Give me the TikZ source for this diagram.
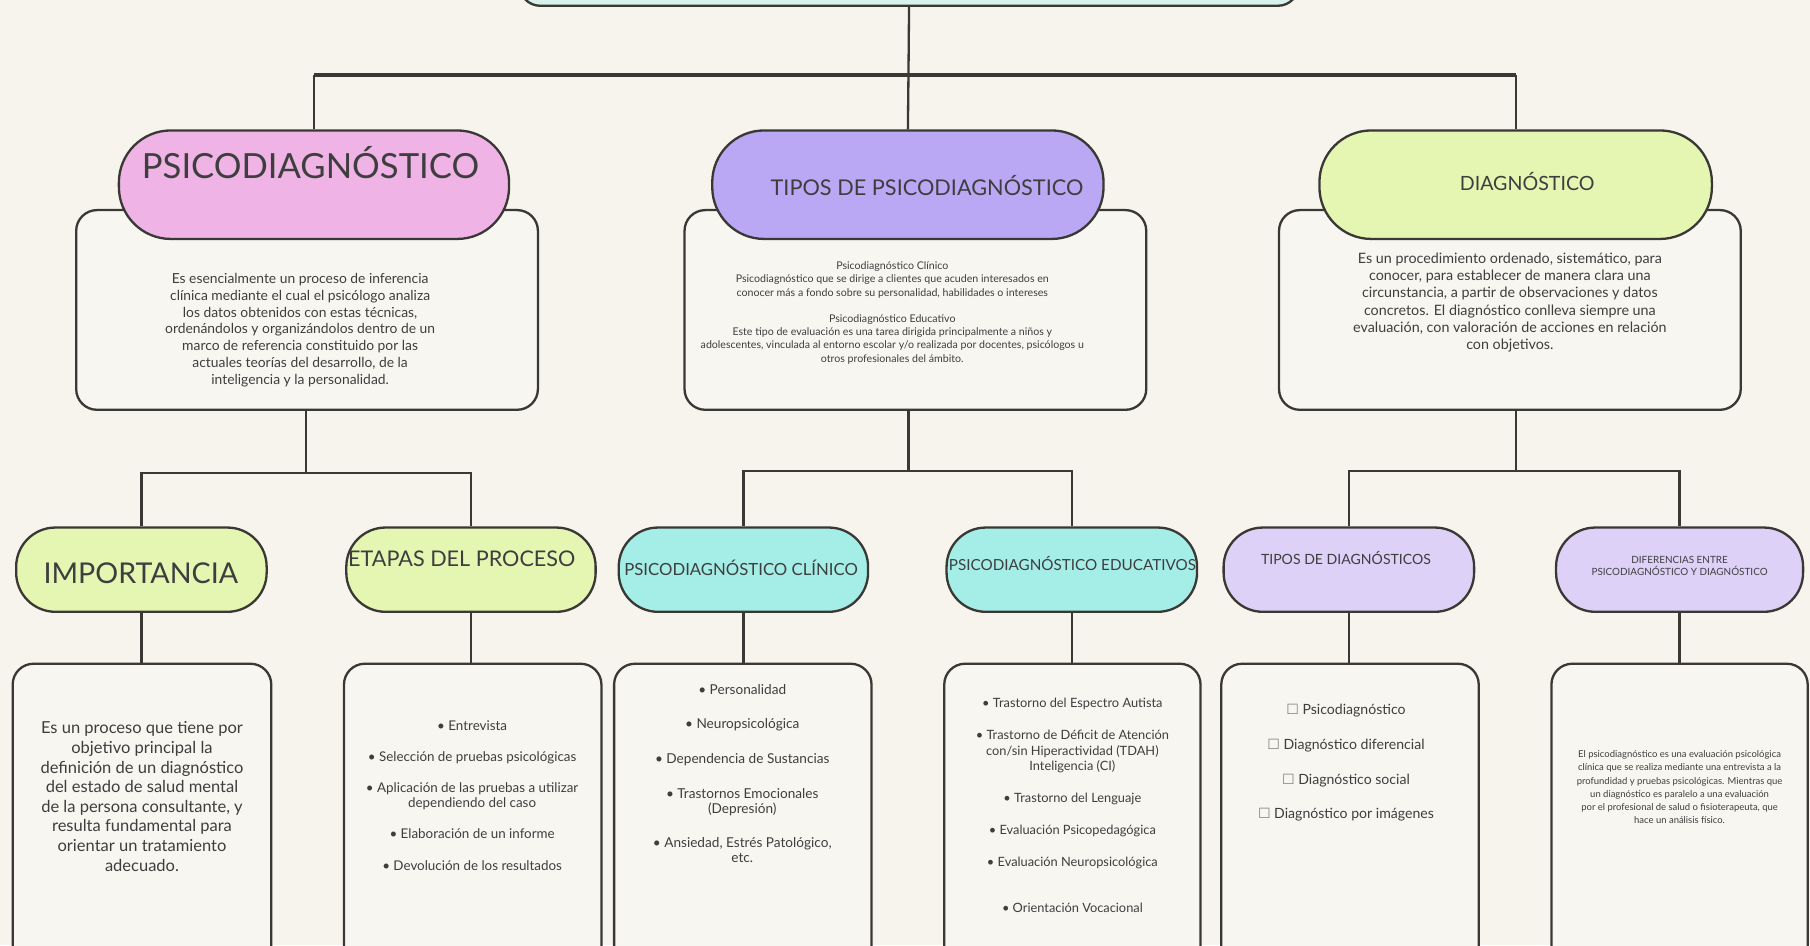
\documentclass[tikz,border=0pt]{standalone}
\usepackage{fontspec}
\setmainfont{Lato}
\newfontfamily\simbolos{DejaVu Sans}
\usetikzlibrary{positioning}
\definecolor{fondo}{HTML}{F7F4ED}
\definecolor{papel}{HTML}{F8F6F1}
\definecolor{linea}{HTML}{3A3834}
\definecolor{texto}{HTML}{3E3E3E}
\definecolor{menta}{HTML}{D7F2EA}
\definecolor{rosa}{HTML}{EFB3E6}
\definecolor{lila}{HTML}{BBA8F4}
\definecolor{lilaClaro}{HTML}{DDD1F8}
\definecolor{lima}{HTML}{E5F5B2}
\definecolor{turquesa}{HTML}{A5EEE8}
\newcommand\tam[2]{\fontsize{#1}{#2}\selectfont}
\newcommand\casilla{{\simbolos\color{gray}☐}}

\begin{document}
\begin{tikzpicture}[x=1pt, y=-1pt,
    every node/.style={text=texto, align=center, inner sep=0pt},
    caja/.style={draw=linea, line width=2, fill=papel, rounded corners=18},
    pildora/.style={draw=linea, line width=2, rounded corners=#1},
    enlace/.style={draw=linea, line width=2}]
  \clip (0,0) rectangle (1568,819);
  \fill[fondo] (0,0) rectangle (1568,819);

  \node[caja, fill=menta, minimum width=675, minimum height=70] (titulo) at (787.5,-30) {};

  \node[caja, minimum width=400, minimum height=173] (cajaPsico) at (266,268.5) {};
  \node[caja, minimum width=400, minimum height=173] (cajaTipos) at (793,268.5) {};
  \node[caja, minimum width=400, minimum height=173] (cajaDiag) at (1308,268.5) {};

  \node[pildora=45, fill=rosa, minimum width=338, minimum height=94] (psico) at (272,160) {};
  \node[pildora=45, fill=lila, minimum width=339, minimum height=94] (tipos) at (786.5,160) {};
  \node[pildora=45, fill=lima, minimum width=340, minimum height=94] (diag) at (1313,160) {};

  \node[font=\tam{30}{32}] (psicoTit) at (269,141) {PSICODIAGNÓSTICO};
  \node[font=\tam{18.8}{21}] (tiposTit) at (803,161) {TIPOS DE PSICODIAGNÓSTICO};
  \node[font=\tam{17}{19}] (diagTit) at (1323,157) {DIAGNÓSTICO};

  \node[font=\tam{12}{14.7}] (psicoTxt) at (260,286) {Es esencialmente un proceso de inferencia\\
    clínica mediante el cual el psicólogo analiza\\
    los datos obtenidos con estas técnicas,\\
    ordenándolos y organizándolos dentro de un\\
    marco de referencia constituido por las\\
    actuales teorías del desarrollo, de la\\
    inteligencia y la personalidad.};
  \node[font=\tam{9.2}{11.5}] (tiposTxt) at (773,271) {Psicodiagnóstico Clínico\\
    Psicodiagnóstico que se dirige a clientes que acuden interesados en\\
    conocer más a fondo sobre su personalidad, habilidades o intereses\\[11]
    Psicodiagnóstico Educativo\\
    Este tipo de evaluación es una tarea dirigida principalmente a niños y\\
    adolescentes, vinculada al entorno escolar y/o realizada por docentes, psicólogos u\\
    otros profesionales del ámbito.};
  \node[font=\tam{12.4}{15}] (diagTxt) at (1308,262) {Es un procedimiento ordenado, sistemático, para\\
    conocer, para establecer de manera clara una\\
    circunstancia, a partir de observaciones y datos\\
    concretos. El diagnóstico conlleva siempre una\\
    evaluación, con valoración de acciones en relación\\
    con objetivos.};

  \node[caja, minimum width=224, minimum height=305] (cajaImp) at (123,727.5) {};
  \node[caja, minimum width=223, minimum height=305] (cajaEtapas) at (409.5,727.5) {};
  \node[caja, minimum width=223, minimum height=305] (cajaClin) at (643.5,727.5) {};
  \node[caja, minimum width=222, minimum height=305] (cajaEdu) at (929,727.5) {};
  \node[caja, minimum width=223, minimum height=305] (cajaTdiag) at (1169.5,727.5) {};
  \node[caja, minimum width=222, minimum height=305] (cajaDif) at (1455,727.5) {};

  \node[pildora=34, fill=lima, minimum width=217, minimum height=73] (imp) at (122.5,493.5) {};
  \node[pildora=34, fill=lima, minimum width=216, minimum height=73] (etapas) at (408,493.5) {};
  \node[pildora=34, fill=turquesa, minimum width=216, minimum height=73] (clin) at (644,493.5) {};
  \node[pildora=34, fill=turquesa, minimum width=217, minimum height=73] (edu) at (928.5,493.5) {};
  \node[pildora=34, fill=lilaClaro, minimum width=217, minimum height=73] (tdiag) at (1168.5,493.5) {};
  \node[pildora=34, fill=lilaClaro, minimum width=214, minimum height=73] (dif) at (1455,493.5) {};

  \node[font=\tam{24.8}{26}] (impTit) at (122,497) {IMPORTANCIA};
  \node[font=\tam{18.7}{20}] (etapasTit) at (400,484) {ETAPAS DEL PROCESO};
  \node[font=\tam{14.5}{16}] (clinTit) at (642,492) {PSICODIAGNÓSTICO CLÍNICO};
  \node[font=\tam{13.2}{15}] (eduTit) at (929,488) {PSICODIAGNÓSTICO EDUCATIVOS};
  \node[font=\tam{12.2}{14}] (tdiagTit) at (1166,483) {TIPOS DE DIAGNÓSTICOS};
  \node[font=\tam{8.6}{10.5}] (difTit) at (1455,490) {DIFERENCIAS ENTRE\\PSICODIAGNÓSTICO Y DIAGNÓSTICO};

  \node[font=\tam{14.3}{17}] (impTxt) at (123,690) {Es un proceso que tiene por\\
    objetivo principal la\\
    definición de un diagnóstico\\
    del estado de salud mental\\
    de la persona consultante, y\\
    resulta fundamental para\\
    orientar un tratamiento\\
    adecuado.};
  \node[font=\tam{11.6}{13}] (etapasTxt) at (409,689) {• Entrevista\\[14]
    • Selección de pruebas psicológicas\\[14]
    • Aplicación de las pruebas a utilizar\\
    dependiendo del caso\\[14]
    • Elaboración de un informe\\[14]
    • Devolución de los resultados};
  \node[font=\tam{11.8}{13}] (clinTxt) at (643,670) {• Personalidad\\[17]
    • Neuropsicológica\\[17]
    • Dependencia de Sustancias\\[17]
    • Trastornos Emocionales\\
    (Depresión)\\[17]
    • Ansiedad, Estrés Patológico,\\
    etc.};
  \node[font=\tam{11.1}{13.5}] (eduTxt) at (929,698) {• Trastorno del Espectro Autista\\[14]
    • Trastorno de Déficit de Atención\\
    con/sin Hiperactividad (TDAH)\\
    Inteligencia (CI)\\[14]
    • Trastorno del Lenguaje\\[14]
    • Evaluación Psicopedagógica\\[14]
    • Evaluación Neuropsicológica\\[27]
    • Orientación Vocacional};
  \node[font=\tam{12.2}{13}] (tdiagTxt) at (1166,661) {\casilla\ Psicodiagnóstico\\[17]
    \casilla\ Diagnóstico diferencial\\[17]
    \casilla\ Diagnóstico social\\[17]
    \casilla\ Diagnóstico por imágenes};
  \node[font=\tam{8.2}{11.5}] (difTxt) at (1455,682) {El psicodiagnóstico es una evaluación psicológica\\
    clínica que se realiza mediante una entrevista a la\\
    profundidad y pruebas psicológicas. Mientras que\\
    un diagnóstico es paralelo a una evaluación\\
    por el profesional de salud o fisioterapeuta, que\\
    hace un análisis físico.};

  \coordinate (bus) at (787,65);
  \coordinate (j1) at (265,410);
  \coordinate (j2) at (787,408);
  \coordinate (j3) at (1313,408);
  \draw[enlace] (titulo.south) -- (bus);
  \draw[enlace] (psico.north) -- (psico.north |- bus);
  \draw[enlace] (tipos.north) -- (bus);
  \draw[enlace] (diag.north) -- (diag.north |- bus);
  \draw[enlace, line width=3.5] (psico.north |- bus) -- (diag.north |- bus);
  \draw[enlace] (cajaPsico.south -| j1) -- (j1);
  \draw[enlace] (cajaTipos.south -| j2) -- (j2);
  \draw[enlace] (cajaDiag.south -| j3) -- (j3);
  \draw[enlace] (imp.north) |- (j1) -| (etapas.north);
  \draw[enlace] (clin.north) |- (j2) -| (edu.north);
  \draw[enlace] (tdiag.north) |- (j3) -| (dif.north);
  \draw[enlace] (imp.south) -- (cajaImp.north -| imp.south);
  \draw[enlace] (etapas.south) -- (cajaEtapas.north -| etapas.south);
  \draw[enlace] (clin.south) -- (cajaClin.north -| clin.south);
  \draw[enlace] (edu.south) -- (cajaEdu.north -| edu.south);
  \draw[enlace] (tdiag.south) -- (cajaTdiag.north -| tdiag.south);
  \draw[enlace] (dif.south) -- (cajaDif.north -| dif.south);
\end{tikzpicture}
\end{document}
